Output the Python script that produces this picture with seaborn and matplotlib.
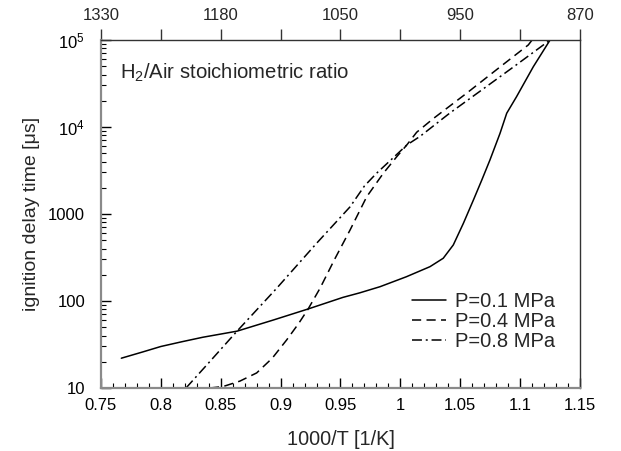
import numpy as np
import pandas as pd
import matplotlib
matplotlib.use("Agg")
import matplotlib.pyplot as plt
import seaborn as sns
from matplotlib.ticker import FixedLocator, FixedFormatter, LogLocator, NullFormatter, MultipleLocator

# ---- data ----
x_01 = [0.767, 0.785, 0.80, 0.8175, 0.835, 0.8636, 0.894, 0.923, 0.952, 0.966, 0.983, 1.005, 1.0247,
        1.0358, 1.0442, 1.0526, 1.061, 1.068, 1.0748, 1.0832, 1.0888, 1.097, 1.111, 1.125]
y_01 = [22, 26, 30, 34, 38.3, 45, 60.5, 81, 110, 124, 146, 190, 248,
        310, 441, 781, 1450, 2460, 4180, 8450, 14400, 22300, 49300, 100000]

x_04 = [0.841, 0.852, 0.866, 0.880, 0.893, 0.905, 0.915, 0.923, 0.9329, 0.945, 0.958, 0.9719, 0.9857,
        0.997, 1.0053, 1.0136, 1.0275, 1.0554, 1.0832, 1.1068, 1.110]
y_04 = [10, 10.4, 12, 14.9, 22, 35.6, 55, 81, 140, 300, 655, 1580, 2930,
        4560, 6200, 8700, 12500, 24500, 49000, 87700, 100000]

x_08 = [0.821, 0.84, 0.8636, 0.8967, 0.930, 0.958, 0.970, 0.980, 0.993, 1.0053, 1.0164, 1.0414,
        1.069, 1.097, 1.125]
y_08 = [10, 19.5, 45, 140, 460, 1210, 2100, 2930, 4300, 6200, 7800, 14500,
        27300, 52000, 100000]

labels = ["P=0.1 MPa", "P=0.4 MPa", "P=0.8 MPa"]
xticks_bottom = [0.75, 0.8, 0.85, 0.9, 0.95, 1.0, 1.05, 1.1, 1.15]
xticklabels_bottom = ["0.75", "0.8", "0.85", "0.9", "0.95", "1", "1.05", "1.1", "1.15"]
top_labels = ["1330", "", "1180", "", "1050", "", "950", "", "870"]
yticks = [10, 100, 1000, 1e4, 1e5]
yticklabels = ["10", "100", "1000", r"$10^4$", r"$10^5$"]

df = pd.concat([
    pd.DataFrame({"x": x_01, "y": y_01, "P": labels[0]}),
    pd.DataFrame({"x": x_04, "y": y_04, "P": labels[1]}),
    pd.DataFrame({"x": x_08, "y": y_08, "P": labels[2]}),
])

sns.set_theme(style="ticks")
plt.rcParams["font.family"] = ["Liberation Sans", "DejaVu Sans"]
plt.rcParams["mathtext.fontset"] = "custom"
plt.rcParams["mathtext.rm"] = "Liberation Sans"
plt.rcParams["mathtext.it"] = "Liberation Sans"

fig, ax = plt.subplots(figsize=(6.21, 4.51), dpi=100)
fig.subplots_adjust(left=0.1626, right=0.934, bottom=0.1397, top=0.9113)

sns.lineplot(data=df, x="x", y="y", style="P", color="black", linewidth=1.1,
             dashes={labels[0]: "", labels[1]: (6, 3.5), labels[2]: (6.5, 2.5, 1.3, 2.5)},
             estimator=None, sort=False, ax=ax, legend=True)

ax.set_yscale("log")
ax.set_xlim(0.75, 1.15)
ax.set_ylim(10, 1e5)

ax.xaxis.set_major_locator(FixedLocator(xticks_bottom))
ax.xaxis.set_major_formatter(FixedFormatter(xticklabels_bottom))
ax.xaxis.set_minor_locator(MultipleLocator(0.01))
ax.yaxis.set_major_locator(FixedLocator(yticks))
ax.yaxis.set_major_formatter(FixedFormatter(yticklabels))
ax.yaxis.set_minor_locator(LogLocator(base=10, subs=np.arange(2, 10)))
ax.yaxis.set_minor_formatter(NullFormatter())

for s in ["left", "bottom"]:
    ax.spines[s].set_color("#8a8a8a")
    ax.spines[s].set_linewidth(1.6)
for s in ["top", "right"]:
    ax.spines[s].set_color("#333333")
    ax.spines[s].set_linewidth(1.0)

# inward ticks on bottom and left (one call each, everything at once)
ax.tick_params(axis="x", which="major", direction="in", length=7, width=1.0, color="black",
               labelsize=12, pad=7.5, bottom=True, top=False, labelcolor="black")
ax.tick_params(axis="x", which="minor", direction="in", length=3.5, width=0.8, color="black",
               bottom=True, top=False)
ax.tick_params(axis="y", which="major", direction="in", length=7, width=1.0, color="black",
               labelsize=12, pad=11.5, left=True, right=False, labelcolor="black")
ax.tick_params(axis="y", which="minor", direction="in", length=3.5, width=0.8, color="black",
               left=True, right=False)

ax.set_xlabel("1000/T [1/K]", fontsize=14.3, labelpad=12)
ax.set_ylabel("ignition delay time [\u03bcs]", fontsize=14, labelpad=6)

# top axis (same positions, temperature labels)
sec = ax.secondary_xaxis("top")
sec.xaxis.set_major_locator(FixedLocator(xticks_bottom))
sec.xaxis.set_major_formatter(FixedFormatter(top_labels))
sec.xaxis.set_minor_locator(FixedLocator([]))
sec.tick_params(axis="x", which="major", direction="out", length=8, width=1.0, color="#333333",
                labelsize=12, pad=4)
sec.spines["top"].set_visible(False)

ax.text(0.04, 0.905, "H$_2$/Air stoichiometric ratio", transform=ax.transAxes,
        fontsize=14.6, va="center", ha="left")

leg = ax.legend(title=None, loc="lower right", bbox_to_anchor=(0.985, 0.055), frameon=False,
                fontsize=14.5, handlelength=1.65, handletextpad=0.45, labelspacing=0.05)

fig.savefig("out.png", dpi=100)
